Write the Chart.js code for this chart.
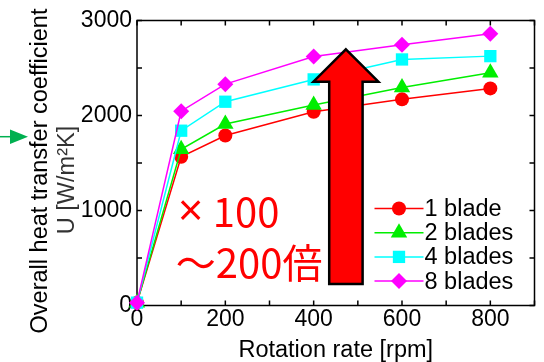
<!DOCTYPE html>
<html>
<head>
<meta charset="utf-8">
<script src="https://cdn.jsdelivr.net/npm/chart.js@4"></script>
<style>
  html, body { margin: 0; padding: 0; background: #fff; }
</style>
</head>
<body>
<canvas id="chart" width="544" height="362"></canvas>
<script>
// Datos
const rotationRate = [0, 100, 200, 400, 600, 800];
const blade1 = [30, 1565, 1790, 2040, 2170, 2285];
const blade2 = [30, 1645, 1910, 2110, 2295, 2450];
const blade4 = [30, 1840, 2145, 2380, 2590, 2625];
const blade8 = [30, 2045, 2330, 2620, 2745, 2860];
const seriesLabels = ['1 blade', '2 blades', '4 blades', '8 blades'];
const xTicks = [0, 200, 400, 600, 800];
const yTicks = [0, 1000, 2000, 3000];

const FONT = '"Liberation Sans", Arial, sans-serif';
const CJK = '"Noto Sans CJK JP", sans-serif';

// Dibuja un marcador simple
const drawMarker = (ctx, style, r, x, y) => {
    ctx.beginPath();
    if (style === 'circle') {
        ctx.arc(x, y, r, 0, Math.PI * 2);
    } else if (style === 'triangle') {
        for (let i = 0; i < 3; i++) {
            const a = i * 2 * Math.PI / 3;
            const px = x + Math.sin(a) * r, py = y - Math.cos(a) * r;
            i ? ctx.lineTo(px, py) : ctx.moveTo(px, py);
        }
    } else if (style === 'rect') {
        const s = Math.SQRT1_2 * r;
        ctx.rect(x - s, y - s, 2 * s, 2 * s);
    } else {
        ctx.moveTo(x - r, y); ctx.lineTo(x, y - r); ctx.lineTo(x + r, y); ctx.lineTo(x, y + r);
    }
    ctx.closePath();
    ctx.fill();
};

// Marco con marcas hacia dentro
const framePlugin = {
    id: 'frame',
    beforeDatasetsDraw(chart) {
        const { ctx, chartArea: a, scales: { x, y } } = chart;
        ctx.save();
        ctx.strokeStyle = '#000';
        ctx.lineWidth = 1.5;
        ctx.strokeRect(a.left, a.top, a.right - a.left, a.bottom - a.top);
        ctx.beginPath();
        for (let v = 0; v <= 900; v += 100) {
            const px = x.getPixelForValue(v);
            ctx.moveTo(px, a.bottom); ctx.lineTo(px, a.bottom - 5);
            ctx.moveTo(px, a.top); ctx.lineTo(px, a.top + 5);
        }
        for (let v = 0; v <= 3000; v += 500) {
            const py = y.getPixelForValue(v);
            ctx.moveTo(a.left, py); ctx.lineTo(a.left + 5, py);
            ctx.moveTo(a.right, py); ctx.lineTo(a.right - 5, py);
        }
        ctx.stroke();

        // Título del eje Y
        ctx.fillStyle = '#000';
        ctx.font = '23.5px ' + FONT;
        ctx.textAlign = 'center';
        ctx.textBaseline = 'middle';
        ctx.translate(41, 171);
        ctx.rotate(-Math.PI / 2);
        ctx.fillText('Overall heat transfer coefficient', 0, 0);
        ctx.fillStyle = '#333';
        ctx.fillText('U [W/m\u00B2K]', -9, 27);
        ctx.restore();

        // Flecha verde a la izquierda
        ctx.save();
        ctx.strokeStyle = '#00b050';
        ctx.fillStyle = '#00b050';
        ctx.lineWidth = 1.5;
        ctx.beginPath();
        ctx.moveTo(0, 136.7); ctx.lineTo(12, 136.7);
        ctx.stroke();
        ctx.beginPath();
        ctx.moveTo(10, 129.5); ctx.lineTo(28, 136.7); ctx.lineTo(10, 144);
        ctx.closePath();
        ctx.fill();
        ctx.restore();
    },
    afterDatasetsDraw(chart) {
        const { ctx, scales: { x, y } } = chart;
        ctx.save();
        // Flecha roja
        const cx = x.getPixelForValue(473);
        const tip = y.getPixelForValue(2697);
        const neck = y.getPixelForValue(2356);
        const base = y.getPixelForValue(226);
        ctx.beginPath();
        ctx.moveTo(cx, tip);
        ctx.lineTo(cx + 32.5, neck);
        ctx.lineTo(cx + 16.7, neck);
        ctx.lineTo(cx + 16.7, base);
        ctx.lineTo(cx - 16.7, base);
        ctx.lineTo(cx - 16.7, neck);
        ctx.lineTo(cx - 32.5, neck);
        ctx.closePath();
        ctx.fillStyle = '#ff0000';
        ctx.fill();
        ctx.lineWidth = 2.5;
        ctx.lineJoin = 'miter';
        ctx.strokeStyle = '#000';
        ctx.stroke();

        // Texto ×100 ～200倍
        ctx.fillStyle = '#ff0000';
        ctx.textAlign = 'left';
        ctx.textBaseline = 'alphabetic';
        const tx = x.getPixelForValue(97);
        const ty = y.getPixelForValue(826);
        ctx.font = '44px ' + FONT;
        ctx.fillText('\u00D7', tx - 2, ty - 2);
        ctx.font = '40px ' + CJK;
        ctx.fillText('100', tx + 33, ty);
        ctx.fillText('\uFF5E200倍', x.getPixelForValue(88), y.getPixelForValue(289));
        ctx.restore();
    },
    afterDraw(chart) {
        // Leyenda
        const { ctx, chartArea: a } = chart;
        ctx.save();
        ctx.font = '23.5px ' + FONT;
        ctx.textBaseline = 'middle';
        ctx.textAlign = 'left';
        const lx = a.right - 160;
        chart.data.datasets.forEach((ds, i) => {
            const ly = 208.5 + i * 24.2;
            ctx.strokeStyle = ds.borderColor;
            ctx.lineWidth = 1.5;
            ctx.beginPath();
            ctx.moveTo(lx, ly); ctx.lineTo(lx + 49, ly);
            ctx.stroke();
            ctx.fillStyle = ds.pointBackgroundColor;
            drawMarker(ctx, ds.pointStyle, ds.pointRadius, lx + 24.5, ly);
            ctx.fillStyle = '#000';
            ctx.fillText(seriesLabels[i], lx + 50, ly + 1);
        });
        ctx.restore();
    }
};

const makeSet = (label, values, color, style, radius, order) => ({
    label: label,
    data: rotationRate.map((r, i) => ({ x: r, y: values[i] })),
    borderColor: color,
    backgroundColor: color,
    pointBackgroundColor: color,
    pointBorderWidth: 0,
    pointStyle: style,
    pointRadius: radius,
    borderWidth: 1.5,
    order: order,
    clip: false
});

new Chart(document.getElementById('chart'), {
    type: 'line',
    data: {
        datasets: [
            makeSet(seriesLabels[0], blade1, '#ff0000', 'circle', 7, 4),
            makeSet(seriesLabels[1], blade2, '#00ee00', 'triangle', 9.5, 3),
            makeSet(seriesLabels[2], blade4, '#00ffff', 'rect', 8.7, 2),
            makeSet(seriesLabels[3], blade8, '#ff00ff', 'rectRot', 8, 1)
        ]
    },
    options: {
        responsive: false,
        animation: false,
        layout: { padding: { top: 20.5, right: 8, left: 0, bottom: 0 } },
        plugins: { legend: { display: false }, tooltip: { enabled: false } },
        scales: {
            x: {
                type: 'linear',
                min: 0,
                max: 900,
                afterBuildTicks: s => { s.ticks = xTicks.map(v => ({ value: v })); },
                afterFit: s => { s.height = 56.5; },
                grid: { display: false, drawTicks: false, tickLength: 0 },
                border: { display: false },
                ticks: { color: '#000', padding: 0, font: { family: FONT, size: 23 }, callback: v => String(v) },
                title: {
                    display: true,
                    text: 'Rotation rate [rpm]',
                    color: '#000',
                    padding: { top: 0, bottom: -3 },
                    font: { family: FONT, size: 23.5 }
                }
            },
            y: {
                min: 0,
                max: 3000,
                afterBuildTicks: s => { s.ticks = yTicks.map(v => ({ value: v })); },
                afterFit: s => { s.width = 137; },
                grid: { display: false, drawTicks: false, tickLength: 0 },
                border: { display: false },
                ticks: { color: '#000', padding: 5, font: { family: FONT, size: 23 }, callback: v => String(v) }
            }
        }
    },
    plugins: [framePlugin]
});
</script>
</body>
</html>
